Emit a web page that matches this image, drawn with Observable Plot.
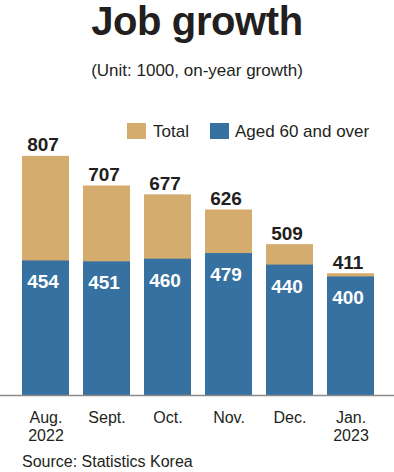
<!DOCTYPE html>
<html>
<head>
<meta charset="utf-8">
<script src="https://cdn.jsdelivr.net/npm/d3@7"></script>
<script src="https://cdn.jsdelivr.net/npm/@observablehq/plot@0.6"></script>
<style>
  html, body { margin: 0; padding: 0; background: #fff; }
  #wrap { position: relative; width: 394px; height: 472px; overflow: hidden;
          font-family: "Liberation Sans", Arial, Helvetica, sans-serif; color: #231f20; }
  .abs { position: absolute; white-space: nowrap; }
  #title { left: 0; width: 394px; text-align: center; top: 1px; font-size: 40px; line-height: 40px; font-weight: bold; letter-spacing: -0.4px; }
  #subtitle { left: 0; width: 394px; text-align: center; top: 62px; font-size: 17px; line-height: 17px; }
  .sw { width: 19px; height: 16px; top: 123px; }
  .lg { top: 123px; font-size: 17px; line-height: 17px; }
  #chart { left: 0; top: 90px; }
  #source { left: 22px; top: 454px; font-size: 16px; line-height: 16px; }
</style>
</head>
<body>
<div id="wrap">
  <div id="title" class="abs">Job growth</div>
  <div id="subtitle" class="abs">(Unit: 1000, on-year growth)</div>
  <div class="abs sw" id="sw1" style="left:127px;"></div>
  <div class="abs lg" id="lg1" style="left:153px;"></div>
  <div class="abs sw" id="sw2" style="left:210px;"></div>
  <div class="abs lg" id="lg2" style="left:235px;"></div>
  <div id="chart" class="abs"></div>
  <div id="source" class="abs">Source: Statistics Korea</div>
</div>
<script>
const months = ["Aug.\n2022", "Sept.", "Oct.", "Nov.", "Dec.", "Jan.\n2023"];
const total = [807, 707, 677, 626, 509, 411];
const aged60 = [454, 451, 460, 479, 440, 400];
const seriesNames = ["Total", "Aged 60 and over"];
const colors = ["#d4ac6e", "#3671a1"];

document.getElementById("sw1").style.background = colors[0];
document.getElementById("sw2").style.background = colors[1];
document.getElementById("lg1").textContent = seriesNames[0];
document.getElementById("lg2").textContent = seriesNames[1];

const data = months.map((m, i) => ({month: m, total: total[i], aged: aged60[i]}));

const chart = Plot.plot({
  width: 394,
  height: 360,
  marginLeft: 14,
  marginRight: 13,
  marginTop: 30,
  marginBottom: 55,
  style: {fontFamily: "'Liberation Sans', Arial, Helvetica, sans-serif", fontSize: "16px", color: "#231f20", background: "transparent", overflow: "visible"},
  x: {domain: months, paddingInner: 0.23, paddingOuter: 0.115, align: 0.5},
  y: {domain: [0, 928], axis: null},
  marks: [
    Plot.barY(data, {x: "month", y: "total", fill: colors[0]}),
    Plot.barY(data, {x: "month", y: "aged", fill: colors[1]}),
    Plot.ruleY([0], {stroke: "#8a8a8a", strokeWidth: 1.5, insetLeft: -14, insetRight: -13}),
    Plot.text(data, {x: "month", y: "total", text: d => String(d.total), lineAnchor: "bottom", dy: -5, dx: -3, fontSize: 19, fontWeight: "bold", fill: "#231f20"}),
    Plot.text(data, {x: "month", y: "aged", text: d => String(d.aged), lineAnchor: "top", dy: 14, dx: -3, fontSize: 19, fontWeight: "bold", fill: "#ffffff"}),
    Plot.axisX({tickSize: 0, tickPadding: 15, fontSize: 16, lineHeight: 1.1, label: null, tickFormat: d => d, fill: "#231f20"})
  ]
});
document.getElementById("chart").appendChild(chart);
</script>
</body>
</html>
